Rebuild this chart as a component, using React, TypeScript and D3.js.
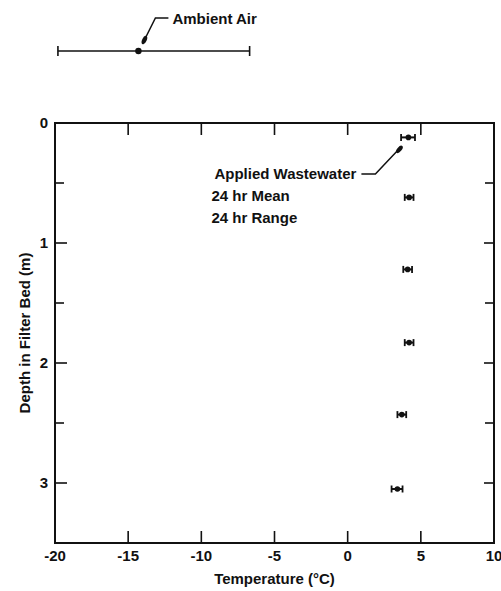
import React from "react";
import * as d3 from "d3";

// Temperature profile through the filter bed
const depths = [0.12, 0.62, 1.22, 1.83, 2.43, 3.05];
const meanTemp = [4.15, 4.2, 4.1, 4.2, 3.7, 3.4];
const minTemp = [3.65, 3.9, 3.8, 3.9, 3.4, 3.0];
const maxTemp = [4.6, 4.5, 4.4, 4.5, 4.0, 3.75];

// Ambient air over the same 24 hr period
const airMean = -14.3;
const airMin = -19.8;
const airMax = -6.7;

const xTicks = [-20, -15, -10, -5, 0, 5, 10];
const yTicks = [0, 1, 2, 3];
const yMinorTicks = [0.5, 1.5, 2.5];

const W = 501;
const H = 591;
const left = 55;
const right = 494;
const top = 123;
const bottom = 543;

const FONT = "'Liberation Sans', Arial, sans-serif";

export default function App() {
  const x = d3.scaleLinear().domain([-20, 10]).range([left, right]);
  const y = d3.scaleLinear().domain([0, 3.5]).range([top, bottom]);

  const rows = depths.map((d, i) => ({
    d,
    mean: meanTemp[i],
    lo: minTemp[i],
    hi: maxTemp[i],
  }));

  const airY = 51;
  const line = d3.line();

  const first = rows[0];
  const fx = x(first.mean);
  const fy = y(first.d);
  const ax = x(airMean);

  const textStyle = {
    fontFamily: FONT,
    fontWeight: 700,
    fontSize: 15,
    fill: "#111",
  } as const;

  return (
    <svg
      width={W}
      height={H}
      style={{ position: "absolute", left: 0, top: 0, background: "#fff" }}
    >
      {/* frame */}
      <rect
        x={left}
        y={top}
        width={right - left}
        height={bottom - top}
        fill="none"
        stroke="#111"
        strokeWidth={2}
      />

      {/* x ticks, bottom and top, pointing inward */}
      {xTicks.slice(1, -1).map((t) => (
        <g key={"xt" + t}>
          <line x1={x(t)} x2={x(t)} y1={bottom} y2={bottom - 12} stroke="#111" strokeWidth={1.6} />
          <line x1={x(t)} x2={x(t)} y1={top} y2={top + 12} stroke="#111" strokeWidth={1.6} />
        </g>
      ))}
      {xTicks.map((t) => (
        <text
          key={"xl" + t}
          x={x(t)}
          y={561}
          textAnchor="middle"
          style={textStyle}
        >
          {t < 0 ? "-" + Math.abs(t) : String(t)}
        </text>
      ))}

      {/* y ticks, left and right */}
      {yTicks.slice(1).map((t) => (
        <g key={"yt" + t}>
          <line x1={left} x2={left + 12} y1={y(t)} y2={y(t)} stroke="#111" strokeWidth={1.6} />
          <line x1={right} x2={right - 10} y1={y(t)} y2={y(t)} stroke="#111" strokeWidth={1.6} />
        </g>
      ))}
      {yMinorTicks.map((t) => (
        <g key={"ym" + t}>
          <line x1={left} x2={left + 9} y1={y(t)} y2={y(t)} stroke="#111" strokeWidth={1.6} />
          <line x1={right} x2={right - 9} y1={y(t)} y2={y(t)} stroke="#111" strokeWidth={1.6} />
        </g>
      ))}
      {yTicks.map((t) => (
        <text
          key={"yl" + t}
          x={48}
          y={y(t) + 5}
          textAnchor="end"
          style={textStyle}
        >
          {t}
        </text>
      ))}

      {/* axis titles */}
      <text x={(left + right) / 2} y={584} textAnchor="middle" style={textStyle}>
        Temperature (°C)
      </text>
      <text
        transform={`translate(30,${(top + bottom) / 2}) rotate(-90)`}
        textAnchor="middle"
        style={textStyle}
      >
        Depth in Filter Bed (m)
      </text>

      {/* applied wastewater: 24 hr range bars with mean */}
      {rows.map((r, i) => (
        <g key={"r" + i}>
          <line x1={x(r.lo)} x2={x(r.hi)} y1={y(r.d)} y2={y(r.d)} stroke="#111" strokeWidth={2} />
          <line x1={x(r.lo)} x2={x(r.lo)} y1={y(r.d) - 3.5} y2={y(r.d) + 3.5} stroke="#111" strokeWidth={1.8} />
          <line x1={x(r.hi)} x2={x(r.hi)} y1={y(r.d) - 3.5} y2={y(r.d) + 3.5} stroke="#111" strokeWidth={1.8} />
          <circle cx={x(r.mean)} cy={y(r.d)} r={2.8} fill="#111" />
        </g>
      ))}

      {/* ambient air range bar */}
      <line x1={x(airMin)} x2={x(airMax)} y1={airY} y2={airY} stroke="#111" strokeWidth={1.4} />
      <line x1={x(airMin)} x2={x(airMin)} y1={airY - 5} y2={airY + 5} stroke="#111" strokeWidth={1.6} />
      <line x1={x(airMax)} x2={x(airMax)} y1={airY - 5} y2={airY + 5} stroke="#111" strokeWidth={1.6} />
      <circle cx={ax} cy={airY} r={3.2} fill="#111" />

      {/* ambient air callout */}
      <path
        d={line([
          [ax + 30, 18],
          [ax + 17, 18],
          [ax + 4, airY - 7],
        ]) as string}
        fill="none"
        stroke="#111"
        strokeWidth={1.5}
      />
      <ellipse
        cx={ax + 6}
        cy={airY - 11}
        rx={2.2}
        ry={4.5}
        fill="#111"
        transform={`rotate(25 ${ax + 6} ${airY - 11})`}
      />
      <text x={ax + 34} y={24} style={textStyle}>
        Ambient Air
      </text>

      {/* applied wastewater callout */}
      <path
        d={line([
          [fx - 47, 174],
          [fx - 33, 174],
          [fx - 7, fy + 9],
        ]) as string}
        fill="none"
        stroke="#111"
        strokeWidth={1.5}
      />
      <ellipse
        cx={fx - 9}
        cy={fy + 12}
        rx={2.2}
        ry={4.5}
        fill="#111"
        transform={`rotate(40 ${fx - 9} ${fy + 12})`}
      />
      <text x={fx - 52} y={179} textAnchor="end" style={textStyle}>
        Applied Wastewater
      </text>
      <text x={fx - 197} y={201} style={textStyle}>
        24 hr Mean
      </text>
      <text x={fx - 197} y={223} style={textStyle}>
        24 hr Range
      </text>
    </svg>
  );
}
